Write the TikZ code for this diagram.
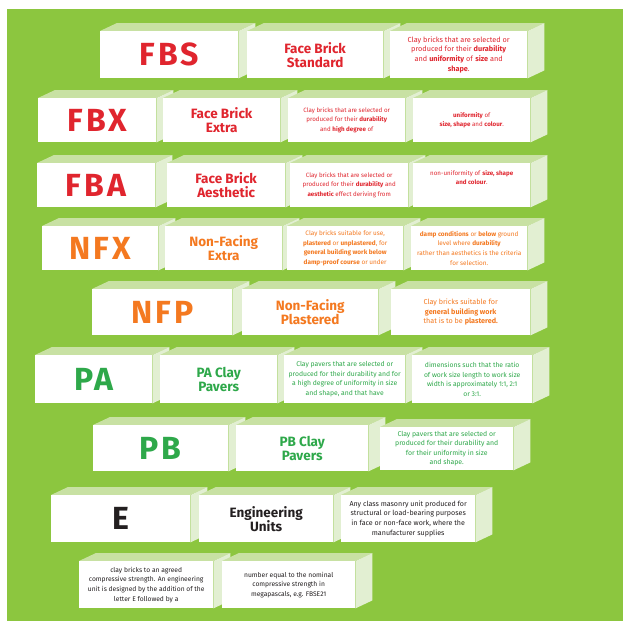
\documentclass[tikz,border=0pt]{standalone}
\usepackage{fontspec}
\setmainfont{Fira Sans}
\newfontfamily\codefont[LetterSpace=10]{Fira Sans}
\usetikzlibrary{backgrounds, calc}
\definecolor{bggreen}{RGB}{140,198,63}
\definecolor{bricktop}{RGB}{200,225,163}
\definecolor{brickside}{RGB}{226,239,210}
\definecolor{fbred}{RGB}{224,37,46}
\definecolor{nforange}{RGB}{244,121,32}
\definecolor{pgreen}{RGB}{46,168,74}
\definecolor{engblack}{RGB}{35,31,32}

\begin{document}
\begin{tikzpicture}[x=1pt, y=-1pt,
    brick/.style={fill=white, inner sep=0pt, anchor=north west, align=center},
    codetxt/.style={brick, font=\codefont\bfseries\fontsize{32}{32}\selectfont},
    nametxt/.style={brick, font=\bfseries\fontsize{13.5}{14}\selectfont},
    desctxt/.style={brick, font=\fontsize{#1}{9.6}\selectfont},
    desctxt/.default=6.6]
  \useasboundingbox (0,0) rectangle (623,621);

  % FBS
  \node[codetxt, text=fbred, minimum width=138, minimum height=47] (fbs) at (100,31) {FBS};
  \node[nametxt, text=fbred, minimum width=136, minimum height=47] (fbsname) at (247,31) {Face Brick\\Standard};
  \node[desctxt=7.3, text=fbred, minimum width=137, minimum height=47] (fbsdesc) at (390,31)
    {Clay bricks that are selected or\\produced for their \textbf{durability}\\and \textbf{uniformity} of \textbf{size} and\\\textbf{shape}.};
  % FBX
  \node[codetxt, text=fbred, minimum width=118, minimum height=44] (fbx) at (38,98) {FBX};
  \node[nametxt, text=fbred, minimum width=117, minimum height=44] (fbxname) at (163,98) {Face Brick\\Extra};
  \node[desctxt=6.2, text=fbred, minimum width=117, minimum height=44] (fbxdesc) at (288,98)
    {Clay bricks that are selected or\\produced for their \textbf{durability}\\and \textbf{high degree} of};
  \node[desctxt=6.2, text=fbred, minimum width=117, minimum height=44] (fbxmore) at (413,98)
    {\textbf{uniformity} of\\\textbf{size, shape} and \textbf{colour}.};
  % FBA
  \node[codetxt, text=fbred, minimum width=118, minimum height=44] (fba) at (37,163) {FBA};
  \node[nametxt, text=fbred, minimum width=118, minimum height=44] (fbaname) at (167,163) {Face Brick\\Aesthetic};
  \node[desctxt=6.2, text=fbred, minimum width=118, minimum height=44] (fbadesc) at (290,163)
    {Clay bricks that are selected or\\produced for their \textbf{durability} and\\\textbf{aesthetic} effect deriving from};
  \node[desctxt=6.2, text=fbred, minimum width=117, minimum height=44] (fbamore) at (413,163)
    {non-uniformity of \textbf{size, shape}\\\textbf{and colour}.\\[6pt]};
  % NFX
  \node[codetxt, text=nforange, minimum width=116, minimum height=44] (nfx) at (42,226) {NFX};
  \node[nametxt, text=nforange, minimum width=117, minimum height=44] (nfxname) at (165,226) {Non-Facing\\Extra};
  \node[desctxt=6.4, text=nforange, minimum width=116, minimum height=44] (nfxdesc) at (287,226)
    {Clay bricks suitable for use,\\\textbf{plastered} or \textbf{unplastered}, for\\\textbf{general building work below}\\\textbf{damp-proof course} or under};
  \node[desctxt=6.4, text=nforange, minimum width=116, minimum height=44] (nfxmore) at (411,226)
    {\textbf{damp conditions} or \textbf{below} ground\\level where \textbf{durability}\\rather than aesthetics is the criteria\\for selection.};
  % NFP
  \node[codetxt, text=nforange, minimum width=140, minimum height=46] (nfp) at (92,289) {NFP};
  \node[nametxt, text=nforange, minimum width=136, minimum height=46] (nfpname) at (242,289) {Non-Facing\\Plastered};
  \node[desctxt=7.2, text=nforange, minimum width=139, minimum height=46] (nfpdesc) at (391,289)
    {Clay bricks suitable for\\\textbf{general building work}\\that is to be \textbf{plastered.}};
  % PA
  \node[codetxt, text=pgreen, minimum width=117, minimum height=48] (pa) at (35,355) {PA};
  \node[nametxt, text=pgreen, minimum width=117, minimum height=48] (paname) at (160,355) {PA Clay\\Pavers};
  \node[desctxt=6.8, text=pgreen, minimum width=121, minimum height=48] (padesc) at (284,355)
    {Clay pavers that are selected or\\produced for their durability and for\\a high degree of uniformity in size\\and shape, and that have};
  \node[desctxt=6.8, text=pgreen, minimum width=120, minimum height=48] (pamore) at (412,355)
    {dimensions such that the ratio\\of work size length to work size\\width is approximately 1:1, 2:1\\or 3:1.};
  % PB
  \node[codetxt, text=pgreen, minimum width=135, minimum height=46] (pb) at (93,425) {PB};
  \node[nametxt, text=pgreen, minimum width=132, minimum height=46] (pbname) at (236,425) {PB Clay\\Pavers};
  \node[desctxt=6.9, text=pgreen, minimum width=133, minimum height=43] (pbdesc) at (380,427)
    {Clay pavers that are selected or\\produced for their durability and\\for their uniformity in size\\and shape.};
  % E
  \node[codetxt, text=engblack, minimum width=139, minimum height=47] (e) at (51,495) {E};
  \node[nametxt, text=engblack, minimum width=134, minimum height=47] (ename) at (199,495) {Engineering\\Units};
  \node[desctxt=7.1, text=engblack, minimum width=134, minimum height=47] (edesc) at (341,495)
    {Any class masonry unit produced for\\structural or load-bearing purposes\\in face or non-face work, where the\\manufacturer supplies};
  \node[desctxt=6.7, text=engblack, minimum width=134, minimum height=47] (emore) at (79,561)
    {clay bricks to an agreed\\compressive strength. An engineering\\unit is designed by the addition of the\\letter E followed by a};
  \node[desctxt=6.7, text=engblack, minimum width=133, minimum height=47] (emore2) at (222,561)
    {number equal to the nominal\\compressive strength in\\megapascals, e.g. FBSE21};

  \begin{scope}[on background layer]
    \fill[bggreen] (7,9) rectangle (623,621);
    \foreach \b in {fbs,fbsname,fbsdesc,fbx,fbxname,fbxdesc,fbxmore,fba,fbaname,fbadesc,fbamore,
                    nfx,nfxname,nfxdesc,nfxmore,nfp,nfpname,nfpdesc,pa,paname,padesc,pamore,
                    pb,pbname,pbdesc,e,ename,edesc,emore,emore2} {
      \fill[bricktop] (\b.north west) -- ++(17,-8) -- ($(\b.north east)+(17,-8)$) -- (\b.north east) -- cycle;
      \fill[brickside] (\b.north east) -- ++(17,-8) -- ($(\b.south east)+(17,-8)$) -- (\b.south east) -- cycle;
    }
  \end{scope}
\end{tikzpicture}
\end{document}
